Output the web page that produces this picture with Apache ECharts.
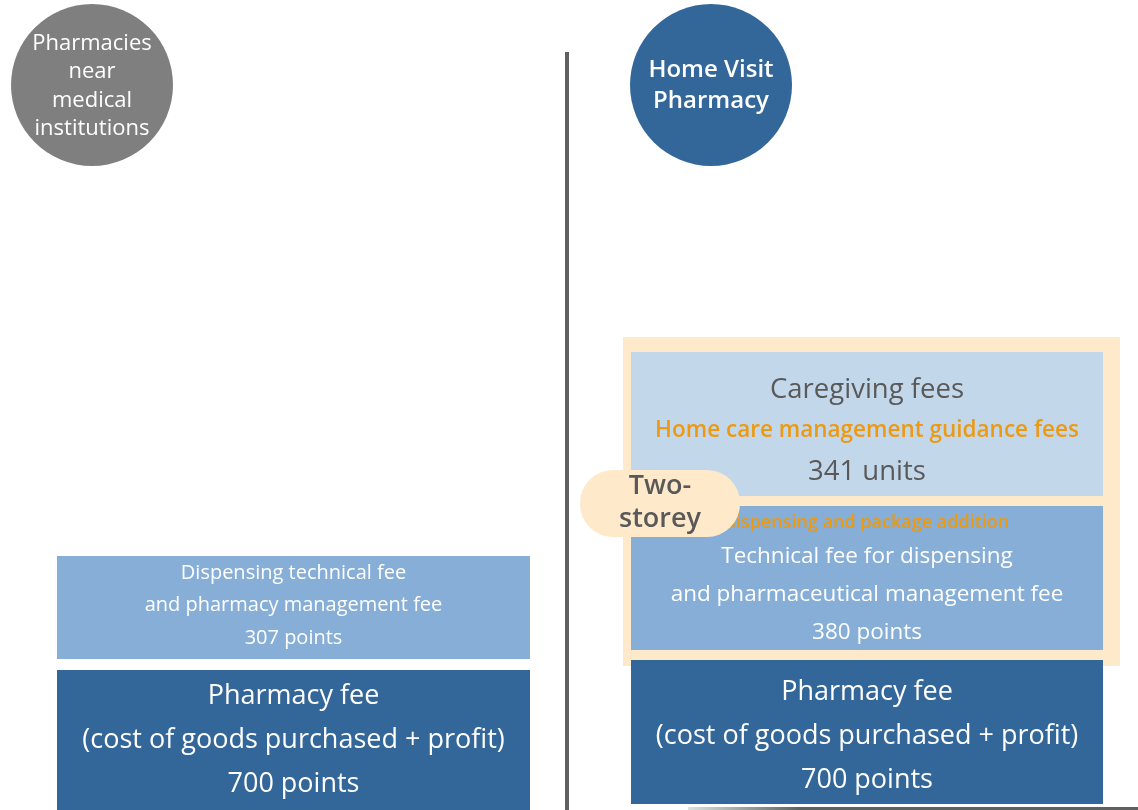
<!DOCTYPE html>
<html>
<head>
<meta charset="utf-8">
<script src="https://cdn.jsdelivr.net/npm/echarts@6/dist/echarts.min.js"></script>
<style>
  html, body { margin: 0; padding: 0; background: #fff; }
  #chart { width: 1138px; height: 810px; }
</style>
</head>
<body>
<div id="chart"></div>
<script>
// data
const columnNames = ['Pharmacies\nnear\nmedical\ninstitutions', 'Home Visit\nPharmacy'];
const leftFees = ['Pharmacy fee\n(cost of goods purchased + profit)', 'Dispensing technical fee\nand pharmacy management fee'];
const leftPoints = [700, 307];
const leftUnits = ['points', 'points'];
const rightFees = ['Pharmacy fee\n(cost of goods purchased + profit)', 'Technical fee for dispensing\nand pharmaceutical management fee', 'Caregiving fees'];
const rightPoints = [700, 380, 341];
const rightUnits = ['points', 'points', 'units'];
const rightAdditions = ['', 'dispensing and package addition', 'Home care management guidance fees'];
const groupLabel = 'Two-\nstorey';

const FONT = '"Open Sans", "Noto Sans", sans-serif';
const fills = ['#336699', '#86AED6', '#C3D7EB'];
const textColors = ['#fff', '#fff', '#595959'];
const orange = '#EC9A12';
const beige = '#FEEACB';

function lines(str, tag) {
  return str.split('\n').map(s => '{' + tag + '|' + s + '}');
}

function blockLabel(fee, value, unit, addition, tier) {
  let out = lines(fee, 't');
  const valueLine = '{t|' + value + ' ' + unit + '}';
  if (addition && tier === 1) out = ['{o|' + addition + '}'].concat(out);
  if (addition && tier === 2) out.push('{o|' + addition + '}');
  out.push(valueLine);
  return out.join('\n');
}

function makeBlocks(fees, values, units, additions, opts) {
  return {
    type: 'custom',
    xAxisIndex: opts.grid,
    yAxisIndex: opts.grid,
    z: 2,
    data: values.map((v, i) => [0, i, v]),
    renderItem: function (params, api) {
      const tier = api.value(1);
      const c = api.coord([0, tier]);
      const size = api.size([1, 1]);
      const x0 = c[0] - size[0] / 2;
      const y0 = c[1] - size[1] / 2 + opts.insetTop;
      let y1 = c[1] + size[1] / 2 - opts.insetBottom;
      if (opts.bleed && tier === 0) y1 = api.getHeight();
      const st = opts.text[tier];
      return {
        type: 'group',
        children: [
          { type: 'rect', shape: { x: x0, y: y0, width: size[0], height: y1 - y0 },
            style: { fill: fills[tier] } },
          { type: 'text',
            style: {
              x: c[0], y: (y0 + y1) / 2 + st.dy,
              text: blockLabel(fees[tier], values[tier], units[tier], additions ? additions[tier] : '', tier),
              align: 'center', verticalAlign: 'middle',
              rich: {
                t: { fontFamily: FONT, fontSize: st.size, lineHeight: st.lh, fill: textColors[tier] },
                o: { fontFamily: FONT, fontSize: st.osize || 20, fontWeight: 600, lineHeight: st.olh || st.lh, fill: orange }
              }
            } }
        ]
      };
    }
  };
}

const chart = echarts.init(document.getElementById('chart'));
chart.setOption({
  backgroundColor: '#fff',
  animation: false,
  grid: [
    { left: 57, width: 473, top: 550, height: 228 },
    { left: 631, width: 472, top: 346, height: 462 }
  ],
  xAxis: [
    { gridIndex: 0, type: 'category', data: [columnNames[0]], show: false },
    { gridIndex: 1, type: 'category', data: [columnNames[1]], show: false }
  ],
  yAxis: [
    { gridIndex: 0, type: 'category', data: ['base', 'middle'], show: false },
    { gridIndex: 1, type: 'category', data: ['base', 'middle', 'top'], show: false }
  ],
  graphic: [
    { type: 'rect', shape: { x: 565, y: 52, width: 4, height: 758 }, style: { fill: '#606060' } },
    { type: 'rect', shape: { x: 688, y: 807, width: 450, height: 3 },
      style: { fill: new echarts.graphic.LinearGradient(0, 0, 1, 0, [
        { offset: 0, color: '#e0e0e0' }, { offset: 0.25, color: '#606060' }, { offset: 1, color: '#606060' }]) } },
    { type: 'circle', shape: { cx: 92, cy: 85, r: 81 }, style: { fill: '#7F7F7F' } },
    { type: 'text', x: 92, y: 86, style: { text: columnNames[0], fill: '#fff', font: '22px ' + FONT,
      lineHeight: 28.5, align: 'center', verticalAlign: 'middle' } },
    { type: 'circle', shape: { cx: 711, cy: 85, r: 81 }, style: { fill: '#336699' } },
    { type: 'text', x: 711, y: 86, style: { text: columnNames[1], fill: '#fff', font: '600 24px ' + FONT,
      lineHeight: 31, align: 'center', verticalAlign: 'middle' } }
  ],
  series: [
    {
      // frame around the two upper storeys
      type: 'custom',
      xAxisIndex: 1, yAxisIndex: 1, z: 1,
      data: [[0, 1, 2]],
      renderItem: function (params, api) {
        const lo = api.coord([0, api.value(1)]);
        const hi = api.coord([0, api.value(2)]);
        const size = api.size([1, 1]);
        const left = lo[0] - size[0] / 2 - 8;
        const top = hi[1] - size[1] / 2 - 9;
        const bottom = lo[1] + size[1] / 2 + 12;
        return { type: 'rect', shape: { x: left, y: top, width: size[0] + 25, height: bottom - top },
          style: { fill: beige } };
      }
    },
    makeBlocks(leftFees, leftPoints, leftUnits, null, {
      grid: 0, insetTop: 6, insetBottom: 5, bleed: true,
      text: [{ size: 27, lh: 44, dy: 0 }, { size: 20, lh: 32.5, dy: -2 }]
    }),
    makeBlocks(rightFees, rightPoints, rightUnits, rightAdditions, {
      grid: 1, insetTop: 6, insetBottom: 4, bleed: false,
      text: [{ size: 27, lh: 44, dy: 4 }, { size: 22.5, lh: 38, dy: 2, osize: 18, olh: 30 },
             { size: 27.5, lh: 41, dy: 7, osize: 22.5 }]
    }),
    {
      // "Two-storey" tag
      type: 'custom',
      xAxisIndex: 1, yAxisIndex: 1, z: 3,
      data: [[0, 1, 2]],
      renderItem: function (params, api) {
        const lo = api.coord([0, api.value(1)]);
        const size = api.size([1, 1]);
        const cx = lo[0] - size[0] / 2 + 29;
        const cy = lo[1] - size[1] / 2 + 3;
        return {
          type: 'group',
          children: [
            { type: 'rect', shape: { x: cx - 80, y: cy - 33, width: 160, height: 67, r: 33 },
              style: { fill: beige } },
            { type: 'text', style: { x: cx, y: cy, text: groupLabel, align: 'center', verticalAlign: 'middle',
              font: '600 27px ' + FONT, lineHeight: 33, fill: '#595959' } }
          ]
        };
      }
    }
  ]
});
</script>
</body>
</html>
